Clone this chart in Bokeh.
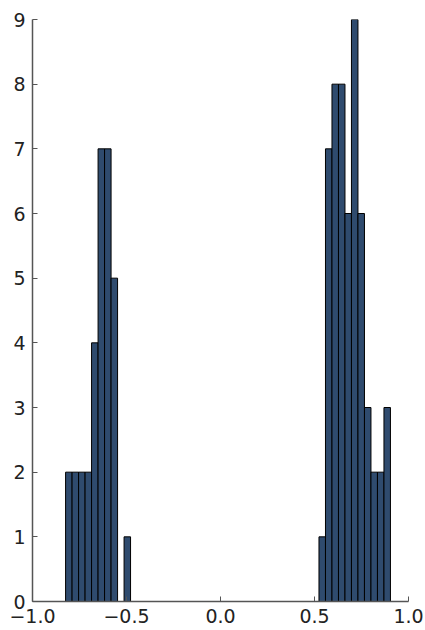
import numpy as np
from bokeh.plotting import figure
from bokeh.models import FixedTicker, Range1d
from bokeh.embed import file_html
from bokeh.resources import INLINE

# histogram data (50 equal bins between edge_min and edge_max)
edge_min = -0.824
edge_max = 0.904
counts = [2, 2, 2, 2, 4, 7, 7, 5, 0, 1,
          0, 0, 0, 0, 0, 0, 0, 0, 0, 0,
          0, 0, 0, 0, 0, 0, 0, 0, 0, 0,
          0, 0, 0, 0, 0, 0, 0, 0, 0, 1,
          7, 8, 8, 6, 9, 6, 3, 2, 2, 3]
x_ticks = [-1.0, -0.5, 0.0, 0.5, 1.0]
x_tick_labels = {-1.0: "\u22121.0", -0.5: "\u22120.5", 0.0: "0.0", 0.5: "0.5", 1.0: "1.0"}
y_ticks = [0, 1, 2, 3, 4, 5, 6, 7, 8, 9]

edges = np.linspace(edge_min, edge_max, len(counts) + 1)
lefts = edges[:-1]
rights = edges[1:]
cnt = np.array(counts)
mask = cnt > 0

p = figure(width=425, height=630, output_backend="svg", toolbar_location=None,
           x_range=Range1d(-1.0, 1.0), y_range=Range1d(0, 9),
           min_border_left=32, min_border_right=17, min_border_top=19, min_border_bottom=29)
p.quad(left=lefts[mask], right=rights[mask], bottom=0, top=cnt[mask],
       fill_color="#2f4b6e", line_color="black", line_width=1)

p.grid.visible = False
p.outline_line_color = None
p.background_fill_color = "white"
p.border_fill_color = "white"

for ax in (p.xaxis[0], p.yaxis[0]):
    ax.axis_line_color = "#555555"
    ax.axis_line_width = 1.5
    ax.major_tick_in = 5
    ax.major_tick_out = 0
    ax.minor_tick_line_color = None
    ax.major_tick_line_color = "#555555"
    ax.major_label_text_font = "DejaVu Sans"
    ax.major_label_text_font_size = "19px"
    ax.major_label_text_color = "#222222"

p.xaxis[0].ticker = FixedTicker(ticks=x_ticks)
p.xaxis[0].major_label_overrides = x_tick_labels
p.xaxis[0].major_label_standoff = 7
p.yaxis[0].ticker = FixedTicker(ticks=y_ticks)
p.yaxis[0].major_label_standoff = 7

open("out.html", "w").write(file_html(p, INLINE))
